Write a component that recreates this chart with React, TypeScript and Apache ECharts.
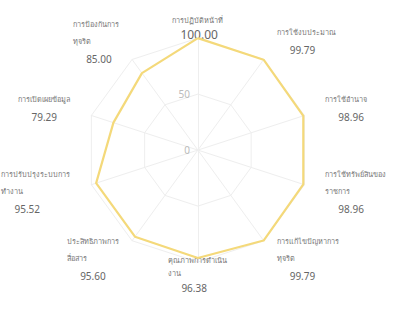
import React, { useEffect, useRef } from "react";
import * as echarts from "echarts";

// Indicators listed clockwise from the top
const indicatorNames = [
  "การปฏิบัติหน้าที่",
  "การใช้งบประมาณ",
  "การใช้อำนาจ",
  "การใช้ทรัพย์สินของ\nราชการ",
  "การแก้ไขปัญหาการ\nทุจริต",
  "คุณภาพการดำเนิน\nงาน",
  "ประสิทธิภาพการ\nสื่อสาร",
  "การปรับปรุงระบบการ\nทำงาน",
  "การเปิดเผยข้อมูล",
  "การป้องกันการ\nทุจริต",
];
const scores = [100.0, 99.79, 98.96, 98.96, 99.79, 96.38, 95.6, 95.52, 79.29, 85.0];
const axisMax = 100;

export default function App() {
  const ref = useRef<HTMLDivElement>(null);
  useEffect(() => {
    document.body.style.margin = "0";
    if (!ref.current) return;
    const chart = echarts.init(ref.current, undefined, { renderer: "svg" });
    // ECharts places indicators counter-clockwise, so reorder to get clockwise layout
    const order = [0, ...indicatorNames.map((_, i) => i).slice(1).reverse()];
    const n = indicatorNames.length;
    const topIdx = 0;
    const bottomIdx = n / 2;
    const valueByName: Record<string, number> = {};
    indicatorNames.forEach((nm, i) => (valueByName[nm] = scores[i]));
    const rich = {
      n: { fontSize: 7.3, color: "#777", lineHeight: 17, align: "left" },
      v: { fontSize: 10, color: "#666", lineHeight: 19, align: "left", padding: [0, 0, 0, 13] },
      vt: { fontSize: 12, color: "#666", lineHeight: 19, align: "left", padding: [0, 0, 6, 8] },
      nb: { fontSize: 7.3, color: "#777", lineHeight: 13, align: "left" },
      vb: { fontSize: 10, color: "#666", lineHeight: 17, align: "left", padding: [0, 0, 0, 13] },
    };
    const label = (name: string, nStyle = "n", vStyle = "v") =>
      `{${nStyle}|${name}}\n{${vStyle}|${valueByName[name].toFixed(2)}}`;
    const center = ["47.8%", "47.2%"];
    const radius = 112;
    const indicators = order.map((i, k) =>
      k === 0
        ? {
            name: indicatorNames[i],
            max: axisMax,
            min: 0,
            axisLabel: { show: true, color: "#bbb", fontSize: 10, showMaxLabel: false },
          }
        : { name: indicatorNames[i], max: axisMax, min: 0 }
    );
    chart.setOption({
      animation: false,
      textStyle: { fontFamily: "'Noto Sans', sans-serif" },
      radar: [
        {
          center,
          radius,
          shape: "polygon",
          splitNumber: 2,
          indicator: indicators,
          nameGap: 22,
          axisName: {
            formatter: (name: string) => {
              const k = order.findIndex((i) => indicatorNames[i] === name);
              return k === topIdx || k === bottomIdx ? "" : label(name);
            },
            rich,
          },
          axisLine: { lineStyle: { color: "#eeeeee" } },
          splitLine: { lineStyle: { color: "#eeeeee" } },
          splitArea: { show: false },
        },
        {
          center,
          radius,
          shape: "polygon",
          splitNumber: 2,
          indicator: order.map((i) => ({ name: indicatorNames[i], max: axisMax, min: 0 })),
          nameGap: -9,
          axisName: {
            formatter: (name: string) => {
              const k = order.findIndex((i) => indicatorNames[i] === name);
              if (k === topIdx) return label(name, "n", "vt");
              if (k === bottomIdx) return label(name, "nb", "vb");
              return "";
            },
            rich,
          },
          axisLine: { show: false },
          splitLine: { show: false },
          splitArea: { show: false },
          axisLabel: { show: false },
        },
      ],
      series: [
        {
          type: "radar",
          radarIndex: 0,
          symbol: "none",
          lineStyle: { color: "#f4d97a", width: 2.2 },
          itemStyle: { color: "#f4d97a" },
          data: [{ value: order.map((i) => scores[i]) }],
        },
      ],
    });
    return () => chart.dispose();
  }, []);
  return <div ref={ref} style={{ width: 414, height: 318 }} />;
}
